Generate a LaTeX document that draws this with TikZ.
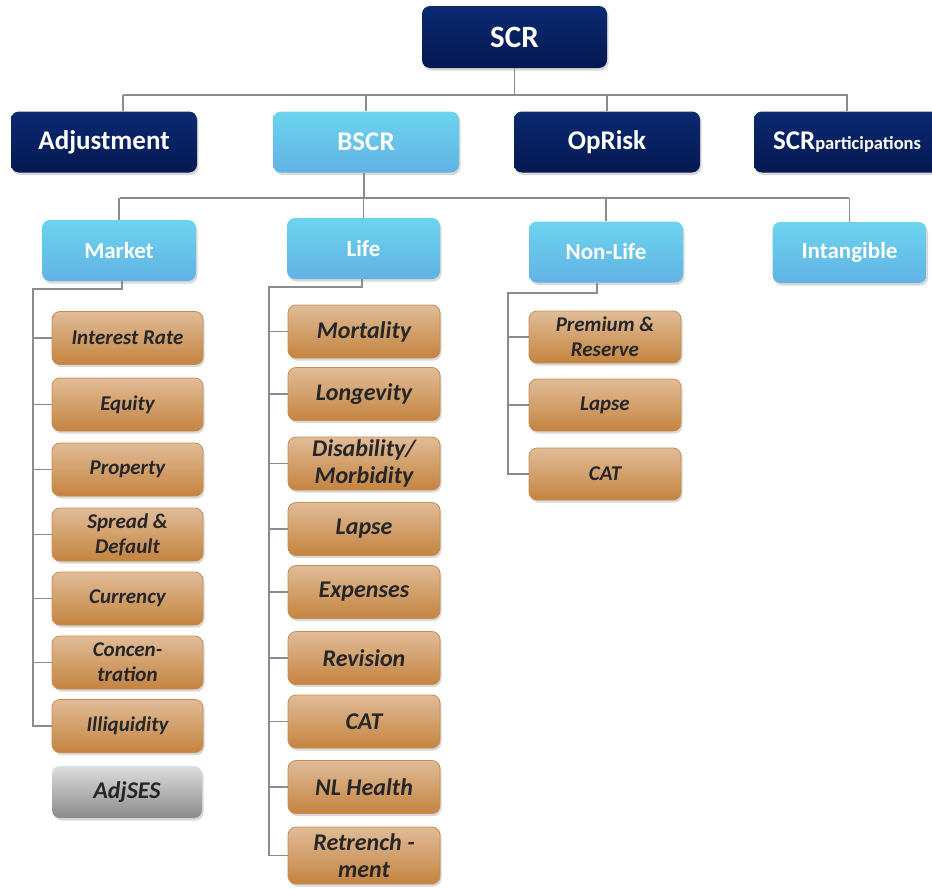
\documentclass[tikz,border=0pt]{standalone}
\usepackage{fontspec}
\setmainfont{Carlito}
\usetikzlibrary{shadows}
\definecolor{navytop}{HTML}{0B2A72}
\definecolor{navybot}{HTML}{041850}
\definecolor{bluetop}{HTML}{6CD4EE}
\definecolor{bluebot}{HTML}{62B2E4}
\definecolor{tantop}{HTML}{E0BC98}
\definecolor{tanbot}{HTML}{C4843F}
\definecolor{tanline}{HTML}{C98B50}
\definecolor{greytop}{HTML}{DEDEDE}
\definecolor{greybot}{HTML}{8A8A8A}
\definecolor{inktext}{HTML}{262626}
\definecolor{linkgray}{HTML}{8C8C8C}

\begin{document}
\begin{tikzpicture}[x=1pt,y=-1pt,
  box/.style={rounded corners=8pt, inner sep=0pt, align=center,
    drop shadow={shadow xshift=1.5pt, shadow yshift=-2.5pt, opacity=0.3}},
  dark/.style={box, top color=navytop, bottom color=navybot, text=white,
    minimum width=186pt, minimum height=61pt, font=\bfseries\fontsize{27}{30}\selectfont},
  light/.style={box, top color=bluetop, bottom color=bluebot, text=white,
    minimum width=154pt, minimum height=61pt, font=\bfseries\fontsize{23}{26}\selectfont},
  risk/.style={box, draw=tanline, line width=0.8pt, top color=tantop, bottom color=tanbot,
    text=inktext, minimum width=151pt, minimum height=53pt, font=\bfseries\itshape\fontsize{21}{25}\selectfont},
  lrisk/.style={risk, minimum width=152pt, font=\bfseries\itshape\fontsize{24}{27}\selectfont},
  adjbox/.style={box, top color=greytop, bottom color=greybot, text=inktext,
    minimum width=150pt, minimum height=52pt, font=\bfseries\itshape\fontsize{24}{27}\selectfont},
  link/.style={draw=linkgray, line width=1.6pt}]

\useasboundingbox (0,0) rectangle (932,889);

\node[dark, minimum width=185pt, minimum height=62pt, font=\bfseries\fontsize{31}{34}\selectfont] (scr) at (514.5,37) {SCR};

\node[dark] (adj) at (104,142) {Adjustment};
\node[light, minimum width=186pt, font=\bfseries\fontsize{27}{30}\selectfont] (bscr) at (366,142) {BSCR};
\node[dark] (oprisk) at (607,142) {OpRisk};
\node[dark] (part) at (847,142) {SCR{\fontsize{18.5}{20}\selectfont participations}};

\node[light] (market) at (119,250.5) {Market};
\node[light, minimum width=153pt] (life) at (363.5,248.5) {Life};
\node[light] (nonlife) at (606,252) {Non-Life};
\node[light] (intang) at (849.5,252.5) {Intangible};

\foreach \n/\y/\t in {1/338/Interest Rate, 2/404.5/Equity, 3/469.5/Property,
  4/534.5/Spread \&\\Default, 5/598.5/Currency, 6/662.5/Concen-\\tration, 7/726/Illiquidity}
{\node[risk] (m\n) at (127.5,\y) {\t}; }

\node[adjbox] (adjses) at (127,792) {AdjSES};

\foreach \n/\y/\t in {1/331.5/Mortality, 2/394/Longevity, 3/463.5/{Disability/\\Morbidity},
  4/529/Lapse, 5/592/Expenses, 6/658/Revision, 7/721.5/CAT, 8/787/NL Health}
{\node[lrisk] (l\n) at (364,\y) {\t}; }
\node[lrisk, minimum height=57pt] (l9) at (364,855.5) {Retrench -\\ment};

\foreach \n/\y/\t in {1/337/Premium \&\\Reserve, 2/405/Lapse, 3/474/CAT}
{\node[risk, minimum width=152pt, minimum height=52pt] (n\n) at (605,\y) {\t}; }

\coordinate (top) at (123,95);
\coordinate (topr) at (848,95);
\draw[link] (scr.south) -- (scr.south |- top);
\draw[link] (top) -- (topr);
\draw[link] (top) -- (top |- adj.north);
\foreach \n in {bscr,oprisk,part}
{\draw[link] (\n.north |- top) -- (\n.north);}

\coordinate (mid) at (120,198);
\coordinate (midr) at (849,198);
\draw[link] ([xshift=-2pt]bscr.south) -- ([xshift=-2pt]bscr.south |- mid);
\draw[link] (mid) -- (midr);
\foreach \n in {market,life,nonlife,intang}
{\draw[link] (\n.north |- mid) -- (\n.north);}

\coordinate (mtrunk) at (33,289);
\draw[link] ([xshift=3pt]market.south) |- (mtrunk) |- (m7.west);
\foreach \n in {1,...,6}
{\draw[link] (m\n.west -| mtrunk) -- (m\n.west);}

\coordinate (ltrunk) at (269,287);
\draw[link] ([xshift=-1.5pt]life.south) |- (ltrunk) |- (l9.west);
\foreach \n in {1,...,8}
{\draw[link] (l\n.west -| ltrunk) -- (l\n.west);}

\coordinate (ntrunk) at (508,293);
\draw[link] ([xshift=-9pt]nonlife.south) |- (ntrunk) |- (n3.west);
\foreach \n in {1,2}
{\draw[link] (n\n.west -| ntrunk) -- (n\n.west);}

\end{tikzpicture}
\end{document}
